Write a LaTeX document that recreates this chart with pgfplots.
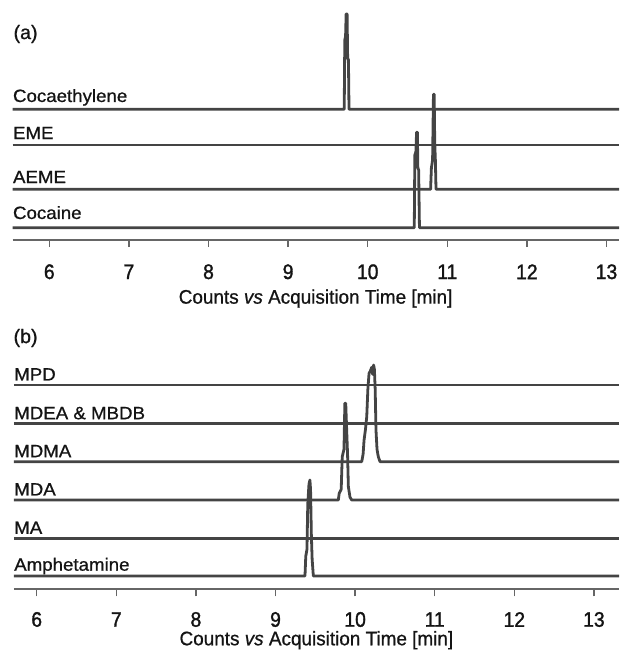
\documentclass[border=0pt]{standalone}
\usepackage{fontspec}
\setmainfont{Liberation Sans}
\usepackage{pgfplots}
\pgfplotsset{compat=1.18}
\definecolor{trace}{HTML}{444444}
\definecolor{axisgray}{HTML}{666666}
\definecolor{txt}{HTML}{141414}
\pgfplotsset{
  chrom/.style={
    scale only axis,
    axis x line=bottom,
    axis y line=none,
    axis line style={-, axisgray, line width=0.9pt},
    xtick={6,7,8,9,10,11,12,13},
    ytick=\empty,
    tick align=outside,
    major tick length=3.6pt,
    every tick/.style={axisgray, line width=0.7pt},
    /pgf/number format/assume math mode=true,
    xticklabel style={font=\fontsize{10.5pt}{11pt}\selectfont\addfontfeatures{FakeBold=1.5}, text=txt, anchor=center, xscale=0.92},
    clip=true,
  },
}
\tikzset{
  tr/.style={trace, line width=1.4pt, line join=round},
  lab/.style={anchor=base west, inner sep=0pt, font=\fontsize{8.9pt}{10pt}\selectfont\addfontfeatures{FakeBold=0.8}, text=txt, xscale=1.05},
  xl/.style={anchor=center, inner sep=0pt, font=\fontsize{9.8pt}{11pt}\selectfont\addfontfeatures{FakeBold=0.8}, text=txt, xscale=0.965},
}
\begin{document}
\begin{tikzpicture}
\useasboundingbox (0,0) rectangle (309.5pt,325.5pt);
% ---------- panel (a) ----------
\begin{axis}[chrom,
  at={(6.3pt,205.5pt)}, anchor=south west,
  width=303.2pt, height=120pt,
  xmin=5.539, xmax=13.157, ymin=0, ymax=240,
  xticklabel style={yshift=-12.3pt},
]
% Cocaethylene
\addplot[tr] coordinates {(5.539,130.7) (9.705,130.7) (9.712,200) (9.722,204) (9.729,226) (9.741,226) (9.748,182) (9.758,180) (9.765,130.7) (13.157,130.7)};
% EME
\addplot[tr] coordinates {(5.539,95) (13.157,95)};
% AEME
\addplot[tr] coordinates {(5.539,50.7) (10.79,50.7) (10.80,72) (10.815,80) (10.826,145.7) (10.835,145.7) (10.842,97) (10.85,80) (10.858,50.7) (13.157,50.7)};
% Cocaine
\addplot[tr] coordinates {(5.539,12.3) (10.585,12.3) (10.592,85) (10.605,88) (10.614,107.7) (10.624,107.7) (10.63,72) (10.64,70) (10.65,12.3) (13.157,12.3)};
\node[lab] at (axis cs:5.539,138.0) {Cocaethylene};
\node[lab] at (axis cs:5.539,100.9) {EME};
\node[lab] at (axis cs:5.539,56.9) {AEME};
\node[lab] at (axis cs:5.539,21.0) {Cocaine};
\end{axis}
\node[xl] at (157.8pt,176.2pt) {Counts \textit{vs} Acquisition Time [min]};
\node[anchor=west, inner sep=0pt, font=\fontsize{9.8pt}{11pt}\selectfont\addfontfeatures{FakeBold=0.8}, text=txt] at (6.6pt,308.5pt) {(a)};
% ---------- panel (b) ----------
\begin{axis}[chrom,
  at={(6.9pt,30.85pt)}, anchor=south west,
  width=302.6pt, height=124.65pt,
  xmin=5.712, xmax=13.315, ymin=0, ymax=249.3,
  xticklabel style={yshift=-11.5pt},
]
% MPD
\addplot[tr] coordinates {(5.712,204.3) (13.315,204.3)};
% MDEA & MBDB
\addplot[tr] coordinates {(5.712,165.6) (13.315,165.6)};
% MDMA
\addplot[tr] coordinates {(5.712,127.6) (10.083,127.6) (10.10,135) (10.112,149) (10.13,160) (10.146,172.6) (10.16,200) (10.175,216) (10.19,218) (10.208,222) (10.22,215) (10.232,224.3) (10.242,220) (10.252,200) (10.262,159.3) (10.275,140) (10.291,132.6) (10.313,127.6) (13.315,127.6)};
% MDA
\addplot[tr] coordinates {(5.712,89.3) (9.789,89.3) (9.80,96) (9.825,100) (9.838,132.6) (9.86,140) (9.871,186) (9.882,186) (9.894,159) (9.905,135) (9.915,102.6) (9.936,92) (9.957,89.3) (13.315,89.3)};
% MA
\addplot[tr] coordinates {(5.712,51) (13.315,51)};
% Amphetamine
\addplot[tr] coordinates {(5.712,13.3) (9.37,13.3) (9.38,33) (9.395,40) (9.405,85) (9.42,105) (9.432,109.3) (9.44,100) (9.45,55) (9.46,30) (9.475,13.3) (13.315,13.3)};
\node[lab] at (axis cs:5.712,208.8) {MPD};
\node[lab] at (axis cs:5.712,170.1) {MDEA \& MBDB};
\node[lab] at (axis cs:5.712,132.1) {MDMA};
\node[lab] at (axis cs:5.712,93.8) {MDA};
\node[lab] at (axis cs:5.712,55.5) {MA};
\node[lab] at (axis cs:5.712,18.6) {Amphetamine};
\end{axis}
\node[xl] at (158.2pt,5.4pt) {Counts \textit{vs} Acquisition Time [min]};
\node[anchor=west, inner sep=0pt, font=\fontsize{9.8pt}{11pt}\selectfont\addfontfeatures{FakeBold=0.8}, text=txt] at (6.6pt,156.5pt) {(b)};
\end{tikzpicture}
\end{document}
